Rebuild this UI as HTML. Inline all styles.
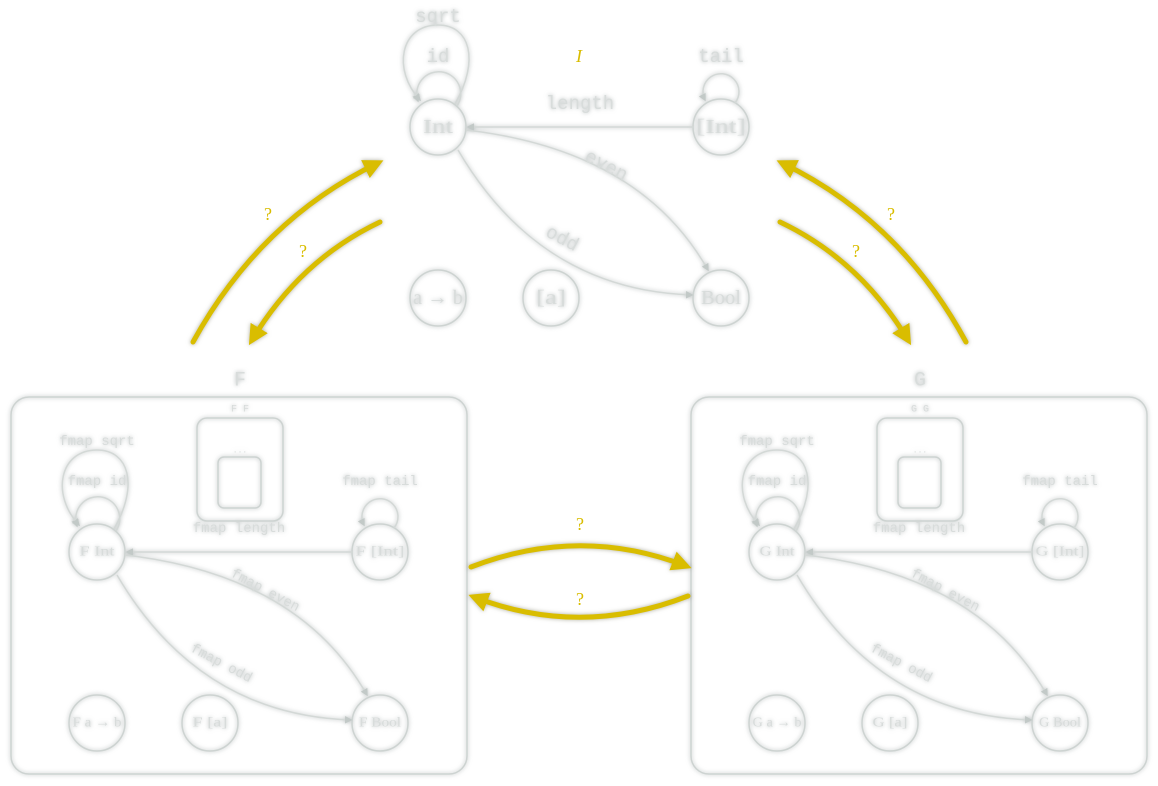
<!DOCTYPE html>
<html><head><meta charset="utf-8"><style>
html,body{margin:0;padding:0;background:#fff;}
svg{display:block;}
.g{filter:drop-shadow(0 0 2px rgba(120,130,130,0.6));}
.n{fill:none;stroke:#cdd3d1;stroke-width:1.5;}
.e{fill:none;stroke:#d3d8d6;stroke-width:1.5;}
.t{font-family:"Liberation Mono",monospace;fill:#d8dcdb;text-anchor:middle;dominant-baseline:central;}
.s{font-family:"Liberation Serif",serif;fill:#d8dcdb;text-anchor:middle;dominant-baseline:central;}
.y{fill:none;stroke:#d9bd00;stroke-width:5;stroke-linecap:round;filter:drop-shadow(0 0 2px rgba(90,90,60,0.5));}
.q{font-family:"Liberation Serif",serif;fill:#d9bd00;font-size:18px;text-anchor:middle;}
</style></head><body>
<svg id="s" width="1158" height="786" viewBox="0 0 1158 786">
<defs>
<marker id="ah" viewBox="0 0 10 10" refX="8" refY="5" markerWidth="5" markerHeight="5" orient="auto"><path d="M0,0L10,5L0,10z" fill="#c2c9c7"/></marker>
<marker id="ya" viewBox="0 0 10 10" refX="7" refY="5" markerWidth="4" markerHeight="4" orient="auto"><path d="M0,0L10,5L0,10z" fill="#d9bd00"/></marker>
</defs>
<g class="g" id="root"></g>
<g>
<path class="y" d="M193,342 Q260,220 378,163" marker-end="url(#ya)"/>
<path class="y" d="M380,222 Q300,260 252,340" marker-end="url(#ya)"/>
<text class="q" x="268" y="220">?</text><text class="q" x="303" y="257">?</text>
<path class="y" d="M966,342 Q900,220 782,163" marker-end="url(#ya)"/>
<path class="y" d="M780,222 Q860,260 908,340" marker-end="url(#ya)"/>
<text class="q" x="891" y="220">?</text><text class="q" x="856" y="257">?</text>
<path class="y" d="M471,567 Q580,525 686,566" marker-end="url(#ya)"/>
<path class="y" d="M688,596 Q580,638 474,597" marker-end="url(#ya)"/>
<text class="q" x="580" y="530">?</text><text class="q" x="580" y="605">?</text>
<text class="q" x="579" y="62" font-style="italic" font-size="24">I</text>
</g>
</svg>
<script>
const NS="http://www.w3.org/2000/svg";
const root=document.getElementById('root');
function el(tag,attrs,parent,txt){const e=document.createElementNS(NS,tag);for(const k in attrs)e.setAttribute(k,attrs[k]);if(txt!==undefined)e.textContent=txt;parent.appendChild(e);return e;}
function graph(dx,dy,L,fs,nfs,name){
  const g=el('g',{transform:`translate(${dx},${dy})`},root);
  
  
  const nodes=[[438,127,L.int],[721,127,L.lint],[721,298,L.bool],[438,298,L.ab],[551,298,L.la]];
  nodes.forEach(n=>{
    const c=el('circle',{class:'n',cx:n[0],cy:n[1],r:28},g);
    
    
    el('text',{class:'s',x:n[0],y:n[1],'font-size':nfs,textLength:Math.min(52,n[2].length*nfs*0.5),lengthAdjust:'spacingAndGlyphs'},g,n[2]);
  });
  el('path',{class:'e',d:'M693,127 L468,127','marker-end':'url(#ah)'},g);
  el('path',{class:'e',d:'M466,130 Q640,150 708,270','marker-end':'url(#ah)'},g);
  el('path',{class:'e',d:'M458,150 Q540,290 692,295','marker-end':'url(#ah)'},g);
  el('path',{class:'e',d:'M457,106 A22,22 0 1 0 418,101','marker-end':'url(#ah)'},g);
  el('path',{class:'e',d:'M455,104 C480,60 470,25 438,25 C400,25 392,70 420,100','marker-end':'url(#ah)'},g);
  el('path',{class:'e',d:'M735,103 A18,18 0 1 0 705,100','marker-end':'url(#ah)'},g);
  el('text',{class:'t',x:580,y:104,'font-size':fs+3},g,L.len);
  el('text',{class:'t',x:606,y:166,'font-size':fs+3,transform:'rotate(28 606 166)'},g,L.even);
  el('text',{class:'t',x:562,y:239,'font-size':fs+3,transform:'rotate(28 562 239)'},g,L.odd);
  el('text',{class:'t',x:438,y:57,'font-size':fs+3},g,L.id);
  el('text',{class:'t',x:438,y:17,'font-size':fs+3},g,L.sqrt);
  el('text',{class:'t',x:721,y:57,'font-size':fs+3},g,L.tail);
  return g;
}
graph(0,0,{int:'Int',lint:'[Int]',bool:'Bool',ab:'a → b',la:'[a]',len:'length',even:'even',odd:'odd',id:'id',sqrt:'sqrt',tail:'tail'},16,20,'identity-category');
function box(ox,F){
  const g=el('g',{},root);
  
  
  el('rect',{class:'n',x:11+ox,y:397,width:456,height:377,rx:18},g);
  el('rect',{class:'n',x:197+ox,y:418,width:86,height:103,rx:10},g);
  el('rect',{class:'n',x:218+ox,y:457,width:43,height:51,rx:6},g);
  el('text',{class:'t',x:240+ox,y:381,'font-size':20,'font-family':'Liberation Serif'},g,F);
  el('text',{class:'t',x:240+ox,y:410,'font-size':10},g,F+' '+F);
  el('text',{class:'t',x:240+ox,y:451,'font-size':8},g,'...');
  graph(ox-341,425,{int:F+' Int',lint:F+' [Int]',bool:F+' Bool',ab:F+' a → b',la:F+' [a]',len:'fmap length',even:'fmap even',odd:'fmap odd',id:'fmap id',sqrt:'fmap sqrt',tail:'fmap tail'},11,14,'functor-'+F+'-graph');
}
box(0,'F');
box(680,'G');
</script>
</body></html>
